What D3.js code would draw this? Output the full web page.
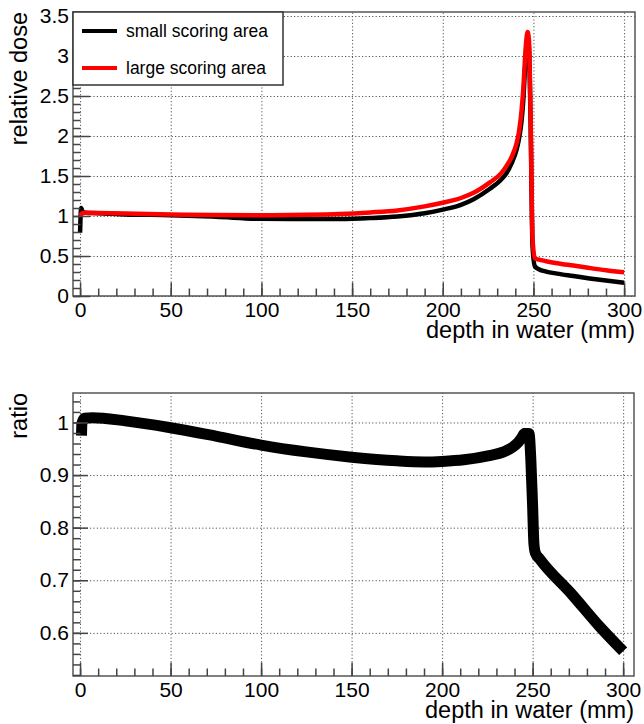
<!DOCTYPE html>
<html>
<head>
<meta charset="utf-8">
<script src="https://cdn.jsdelivr.net/npm/d3@7"></script>
<style>
  body { margin: 0; background: #fff; }
  svg { display: block; }
  text { font-family: "Liberation Sans", Arial, Helvetica, sans-serif; fill: #000; }
</style>
</head>
<body>
<svg id="chart" width="644" height="724"></svg>
<script>
'use strict'

// depth in water (mm) and relative dose
const depthSmall = [0, 0.6, 1.5, 3, 10, 25, 50, 75, 100, 125, 143, 160, 175, 190, 200, 210, 217, 226, 232, 235, 238, 240.7, 242, 243.5, 244.5, 245.3, 246, 246.8, 247.5, 248.4, 249.5, 250.8, 253, 257, 263, 272, 281, 290, 300]
const doseSmall = [0.79, 1.10, 1.05, 1.04, 1.035, 1.02, 1.01, 0.99, 0.965, 0.962, 0.963, 0.975, 0.995, 1.035, 1.08, 1.14, 1.21, 1.34, 1.45, 1.53, 1.66, 1.83, 1.96, 2.20, 2.48, 2.82, 3.08, 3.22, 3.12, 2.2, 0.62, 0.37, 0.335, 0.305, 0.28, 0.25, 0.22, 0.193, 0.167]

const depthLarge = [0, 1, 3, 10, 25, 50, 75, 100, 125, 143, 160, 175, 190, 200, 210, 217, 226, 232, 235, 238, 240.7, 242, 243.5, 244.5, 245.3, 246, 246.8, 247.5, 248.4, 249.5, 250.8, 253, 257, 263, 272, 281, 290, 300]
const doseLarge = [1.0, 1.03, 1.04, 1.037, 1.03, 1.02, 1.012, 1.01, 1.015, 1.025, 1.045, 1.07, 1.12, 1.166, 1.225, 1.29, 1.42, 1.53, 1.62, 1.74, 1.91, 2.05, 2.33, 2.62, 2.95, 3.18, 3.30, 3.20, 2.3, 0.72, 0.47, 0.455, 0.435, 0.41, 0.38, 0.35, 0.322, 0.296]

// ratio small / large
const depthRatio = [0.8, 1.0, 2.5, 7, 25, 50, 75, 100, 125, 150, 175, 190, 200, 212, 226, 234, 239, 242, 244, 245.5, 248, 249, 250, 250.7, 251.5, 254, 272, 287, 300]
const ratioVals = [0.975, 0.998, 1.008, 1.009, 1.003, 0.99, 0.974, 0.957, 0.944, 0.934, 0.927, 0.925, 0.926, 0.929, 0.937, 0.944, 0.953, 0.962, 0.971, 0.979, 0.979, 0.93, 0.84, 0.77, 0.752, 0.74, 0.672, 0.612, 0.565]

const xMajor = [0, 50, 100, 150, 200, 250, 300]
const xMinor = d3.range(0, 301, 10)
const doseMajor = [0, 0.5, 1, 1.5, 2, 2.5, 3, 3.5]
const doseMinor = d3.range(0, 3.51, 0.1)
const ratioMajor = [0.6, 0.7, 0.8, 0.9, 1.0]
const ratioMinor = d3.range(0.52, 1.055, 0.02)
const legendNames = ['small scoring area', 'large scoring area']
const colors = ['#000', '#ff0000']

const svg = d3.select('#chart')

function drawPanel(opt) {
	const x = d3.scaleLinear().domain([-3.9, 306]).range([opt.left, opt.right])
	const y = d3.scaleLinear().domain(opt.yDomain).range([opt.bottom, opt.top])
	const h = opt.bottom - opt.top
	const w = opt.right - opt.left
	const g = svg.append('g')

	// dotted grid
	const gx = g.append('g').attr('transform', 'translate(0,' + opt.bottom + ')')
		.call(d3.axisBottom(x).tickValues(xMajor).tickSize(-h).tickFormat(''))
	const gy = g.append('g').attr('transform', 'translate(' + opt.left + ',0)')
		.call(d3.axisLeft(y).tickValues(opt.yMajor).tickSize(-w).tickFormat(''))
	;[gx, gy].forEach(s => {
		s.select('.domain').remove()
		s.selectAll('line').attr('stroke', '#555').attr('stroke-width', 1).attr('stroke-dasharray', '1.2,2.2')
	})

	// curves
	const clip = 'clip' + opt.id
	svg.append('clipPath').attr('id', clip).append('rect')
		.attr('x', opt.left).attr('y', opt.top).attr('width', w).attr('height', h)
	const lines = g.append('g').attr('clip-path', 'url(#' + clip + ')')
	opt.series.forEach(s => {
		const pts = s.xs.map((d, i) => [d, s.ys[i]])
		lines.append('path')
			.attr('d', d3.line().x(d => x(d[0])).y(d => y(d[1])).curve(s.curve)(pts))
			.attr('fill', 'none').attr('stroke', s.color).attr('stroke-width', s.width)
			.attr('stroke-linejoin', 'round').attr('stroke-linecap', 'butt')
	})

	// frame
	g.append('rect').attr('x', opt.left).attr('y', opt.top).attr('width', w).attr('height', h)
		.attr('fill', 'none').attr('stroke', '#555').attr('stroke-width', 1.5)

	// ticks and labels
	const ax = g.append('g').attr('transform', 'translate(0,' + opt.bottom + ')')
		.call(d3.axisBottom(x).tickValues(xMajor).tickSize(-13.5).tickPadding(6).tickFormat(d3.format('d')))
	const axm = g.append('g').attr('transform', 'translate(0,' + opt.bottom + ')')
		.call(d3.axisBottom(x).tickValues(xMinor).tickSize(-7.5).tickFormat(''))
	const ay = g.append('g').attr('transform', 'translate(' + opt.left + ',0)')
		.call(d3.axisLeft(y).tickValues(opt.yMajor).tickSize(-opt.majorLen).tickPadding(4).tickFormat(opt.fmt))
	const aym = g.append('g').attr('transform', 'translate(' + opt.left + ',0)')
		.call(d3.axisLeft(y).tickValues(opt.yMinor).tickSize(-7.5).tickFormat(''))
	;[ax, axm, ay, aym].forEach(s => {
		s.select('.domain').remove()
		s.selectAll('line').attr('stroke', '#444').attr('stroke-width', 1.5)
		s.selectAll('text').style('font-size', '21px').attr('fill', '#000')
	})

	// axis titles
	g.append('text').attr('x', opt.right).attr('y', opt.xTitleY).attr('text-anchor', 'end')
		.style('font-size', '23.5px').text('depth in water (mm)')
	g.append('text').attr('transform', 'translate(27,' + opt.top + ') rotate(-90)')
		.attr('text-anchor', 'end').style('font-size', '23.5px').text(opt.yTitle)

	return { x, y, g }
}

// top panel: relative dose
const dosePanel = drawPanel({
	id: 'top', left: 73, right: 635, top: 12, bottom: 296,
	yDomain: [0, 3.55], yMajor: doseMajor, yMinor: doseMinor, majorLen: 17,
	fmt: d3.format('~g'), xTitleY: 338, yTitle: 'relative dose',
	series: [
		{ xs: depthSmall, ys: doseSmall, color: colors[0], width: 4.5, curve: d3.curveMonotoneX },
		{ xs: depthLarge, ys: doseLarge, color: colors[1], width: 4.5, curve: d3.curveMonotoneX }
	]
})

// legend
const lg = dosePanel.g.append('g')
lg.append('rect').attr('x', 73).attr('y', 12).attr('width', 210).attr('height', 73)
	.attr('fill', '#fff').attr('stroke', '#333').attr('stroke-width', 1.5)
legendNames.forEach((name, i) => {
	const ly = 31 + i * 37
	lg.append('line').attr('x1', 82).attr('x2', 117).attr('y1', ly).attr('y2', ly)
		.attr('stroke', colors[i]).attr('stroke-width', 4)
	lg.append('text').attr('x', 126).attr('y', ly + 6).style('font-size', '17.5px').text(name)
})

// bottom panel: ratio
drawPanel({
	id: 'bot', left: 73, right: 634, top: 393, bottom: 676,
	yDomain: [0.518, 1.056], yMajor: ratioMajor, yMinor: ratioMinor, majorLen: 15,
	fmt: d => d === 1 ? '1' : d3.format('.1f')(d), xTitleY: 718, yTitle: 'ratio',
	series: [
		{ xs: depthRatio, ys: ratioVals, color: '#000', width: 11, curve: d3.curveMonotoneX }
	]
})
</script>
</body>
</html>
